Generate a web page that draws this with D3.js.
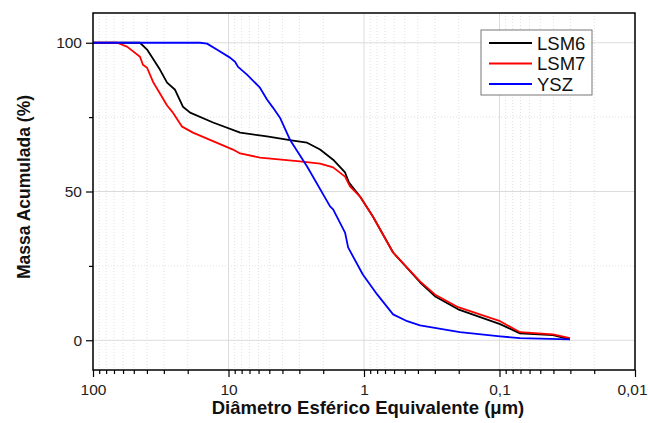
<!DOCTYPE html>
<html>
<head>
<meta charset="utf-8">
<script src="https://cdn.jsdelivr.net/npm/d3@7"></script>
<style>
  body { margin: 0; background: #fff; }
  text { font-family: "Liberation Sans", Arial, sans-serif; }
</style>
</head>
<body>
<div id="chart"></div>
<script>
// Data: diameter (um) and cumulative mass (%)
const lsm6Diam = [100, 45, 39.9, 32, 28.4, 24.8, 21.7, 19.2, 13, 8.2, 5.2, 3.34, 2.63, 2.11, 1.69, 1.38, 1.29, 1.07, 0.86, 0.61, 0.386, 0.3, 0.202, 0.099, 0.0706, 0.0403, 0.0302];
const lsm6Mass = [100, 100, 97.7, 90.9, 86.6, 84.2, 78.5, 76.5, 73.2, 69.8, 68.5, 67.1, 66.4, 64.1, 60.7, 56.4, 53.0, 48.3, 41.6, 29.5, 19.5, 14.8, 10.4, 5.4, 2.3, 1.7, 0.3];

const lsm7Diam = [100, 66.5, 56.1, 45, 42.8, 39.9, 36.1, 28.4, 25.7, 22, 18.3, 9.27, 8.2, 5.86, 2.97, 2.11, 1.69, 1.38, 1.27, 1.07, 0.86, 0.61, 0.386, 0.3, 0.202, 0.099, 0.0706, 0.0403, 0.0302];
const lsm7Mass = [100, 100, 98.7, 95.3, 92.6, 91.6, 86.9, 78.9, 76.5, 71.8, 69.8, 64.1, 62.8, 61.4, 60.1, 59.4, 58.1, 55.0, 51.7, 48.3, 41.6, 29.5, 19.8, 15.4, 11.1, 6.4, 2.7, 2.0, 0.7];

const yszDiam = [100, 16.2, 14.4, 12.2, 9.75, 8.95, 8.5, 7.3, 5.86, 5.2, 4.7, 4.17, 3.52, 2.63, 1.78, 1.69, 1.38, 1.31, 1.02, 0.8, 0.61, 0.48, 0.386, 0.196, 0.099, 0.0706, 0.0302];
const yszMass = [100, 100, 99.7, 97.7, 95.0, 93.6, 91.9, 89.3, 84.9, 80.9, 78.2, 74.8, 67.4, 58.4, 45.0, 44.0, 36.2, 31.2, 22.1, 15.4, 8.7, 6.4, 5.0, 2.7, 1.3, 0.7, 0.3];

const seriesNames = ["LSM6", "LSM7", "YSZ"];
const seriesColors = ["#000000", "#ff0000", "#0000ff"];
const xTickValues = [100, 10, 1, 0.1, 0.01];
const xTickLabels = ["100", "10", "1", "0,1", "0,01"];
const yTickValues = [0, 50, 100];

const series = [
  { name: seriesNames[0], color: seriesColors[0], pts: lsm6Diam.map((d, i) => [d, lsm6Mass[i]]) },
  { name: seriesNames[1], color: seriesColors[1], pts: lsm7Diam.map((d, i) => [d, lsm7Mass[i]]) },
  { name: seriesNames[2], color: seriesColors[2], pts: yszDiam.map((d, i) => [d, yszMass[i]]) }
];

const margin = { top: 13, right: 13, bottom: 53, left: 93 };
const width = 648 - margin.left - margin.right;
const height = 423 - margin.top - margin.bottom;

const svg = d3.select("#chart")
  .append("svg")
  .attr("width", 648)
  .attr("height", 423)
  .append("g")
  .attr("transform", `translate(${margin.left},${margin.top})`);

const x = d3.scaleLog().domain([100, 0.01]).range([0, width]);
const y = d3.scaleLinear().domain([-10, 110]).range([height, 0]);

// minor tick values (2..9 per decade)
const minorX = [];
[10, 1, 0.1, 0.01].forEach(base => {
  for (let k = 2; k <= 9; k++) minorX.push(base * k);
});
const minorY = [25, 75];

// grid
svg.append("g").selectAll("line")
  .data(minorX)
  .enter().append("line")
  .attr("x1", d => x(d)).attr("x2", d => x(d))
  .attr("y1", 0).attr("y2", height)
  .attr("stroke", "#d8d8d8").attr("stroke-width", 0.8)
  .attr("stroke-dasharray", "1,2");

svg.append("g").selectAll("line")
  .data(minorY)
  .enter().append("line")
  .attr("x1", 0).attr("x2", width)
  .attr("y1", d => y(d)).attr("y2", d => y(d))
  .attr("stroke", "#d8d8d8").attr("stroke-width", 0.8)
  .attr("stroke-dasharray", "1,2");

svg.append("g").selectAll("line")
  .data(xTickValues)
  .enter().append("line")
  .attr("x1", d => x(d)).attr("x2", d => x(d))
  .attr("y1", 0).attr("y2", height)
  .attr("stroke", "#dcdcdc").attr("stroke-width", 1);

svg.append("g").selectAll("line")
  .data(yTickValues)
  .enter().append("line")
  .attr("x1", 0).attr("x2", width)
  .attr("y1", d => y(d)).attr("y2", d => y(d))
  .attr("stroke", "#dcdcdc").attr("stroke-width", 1);

// lines
const line = d3.line()
  .x(d => x(d[0]))
  .y(d => y(d[1]));

svg.selectAll(".series")
  .data(series)
  .enter().append("path")
  .attr("fill", "none")
  .attr("stroke", d => d.color)
  .attr("stroke-width", 1.8)
  .attr("stroke-linejoin", "round")
  .attr("d", d => line(d.pts));

// X axis
const xAxis = svg.append("g")
  .attr("transform", `translate(0,${height})`)
  .call(d3.axisBottom(x)
    .tickValues(xTickValues)
    .tickFormat((d, i) => xTickLabels[i])
    .tickSize(7)
    .tickPadding(7));
xAxis.select(".domain").remove();
xAxis.selectAll("line").attr("stroke", "#000").attr("stroke-width", 1.2);
xAxis.selectAll("text").attr("font-size", 15.5).attr("fill", "#222");
// keep the last label inside the window
xAxis.selectAll("text").filter(d => d === 0.01).attr("dx", "-3");

svg.append("g")
  .attr("transform", `translate(0,${height})`)
  .call(d3.axisBottom(x).tickValues(minorX).tickFormat("").tickSize(4))
  .call(g => g.select(".domain").remove())
  .selectAll("line").attr("stroke", "#000").attr("stroke-width", 1.2);

// Y axis
const yAxis = svg.append("g")
  .call(d3.axisLeft(y)
    .tickValues(yTickValues)
    .tickSize(7)
    .tickPadding(4));
yAxis.select(".domain").remove();
yAxis.selectAll("line").attr("stroke", "#000").attr("stroke-width", 1.2);
yAxis.selectAll("text").attr("font-size", 15.5).attr("fill", "#222");

svg.append("g")
  .call(d3.axisLeft(y).tickValues(minorY).tickFormat("").tickSize(4))
  .call(g => g.select(".domain").remove())
  .selectAll("line").attr("stroke", "#000").attr("stroke-width", 1.2);

// frame
svg.append("rect")
  .attr("width", width)
  .attr("height", height)
  .attr("fill", "none")
  .attr("stroke", "#000")
  .attr("stroke-width", 1.5);

// axis titles
svg.append("text")
  .attr("x", 368 - margin.left)
  .attr("y", 414 - margin.top)
  .attr("text-anchor", "middle")
  .attr("font-size", 18.5)
  .attr("font-weight", "bold")
  .attr("fill", "#111")
  .text("Diâmetro Esférico Equivalente (μm)");

svg.append("text")
  .attr("transform", `translate(${30 - margin.left},${187 - margin.top}) rotate(-90)`)
  .attr("text-anchor", "middle")
  .attr("font-size", 17.5)
  .attr("font-weight", "bold")
  .attr("fill", "#111")
  .text("Massa Acumulada (%)");

// legend
const legend = svg.append("g")
  .attr("transform", `translate(${481 - margin.left},${30 - margin.top})`);

legend.append("rect")
  .attr("width", 111)
  .attr("height", 65)
  .attr("fill", "#fff")
  .attr("stroke", "#777")
  .attr("stroke-width", 1);

const item = legend.selectAll(".item")
  .data(series)
  .enter().append("g")
  .attr("transform", (d, i) => `translate(0,${13 + i * 20.5})`);

item.append("line")
  .attr("x1", 8).attr("x2", 51)
  .attr("stroke", d => d.color)
  .attr("stroke-width", 1.8);

item.append("text")
  .attr("x", 56)
  .attr("dy", "0.36em")
  .attr("font-size", 18.5)
  .attr("fill", "#111")
  .text(d => d.name);
</script>
</body>
</html>
